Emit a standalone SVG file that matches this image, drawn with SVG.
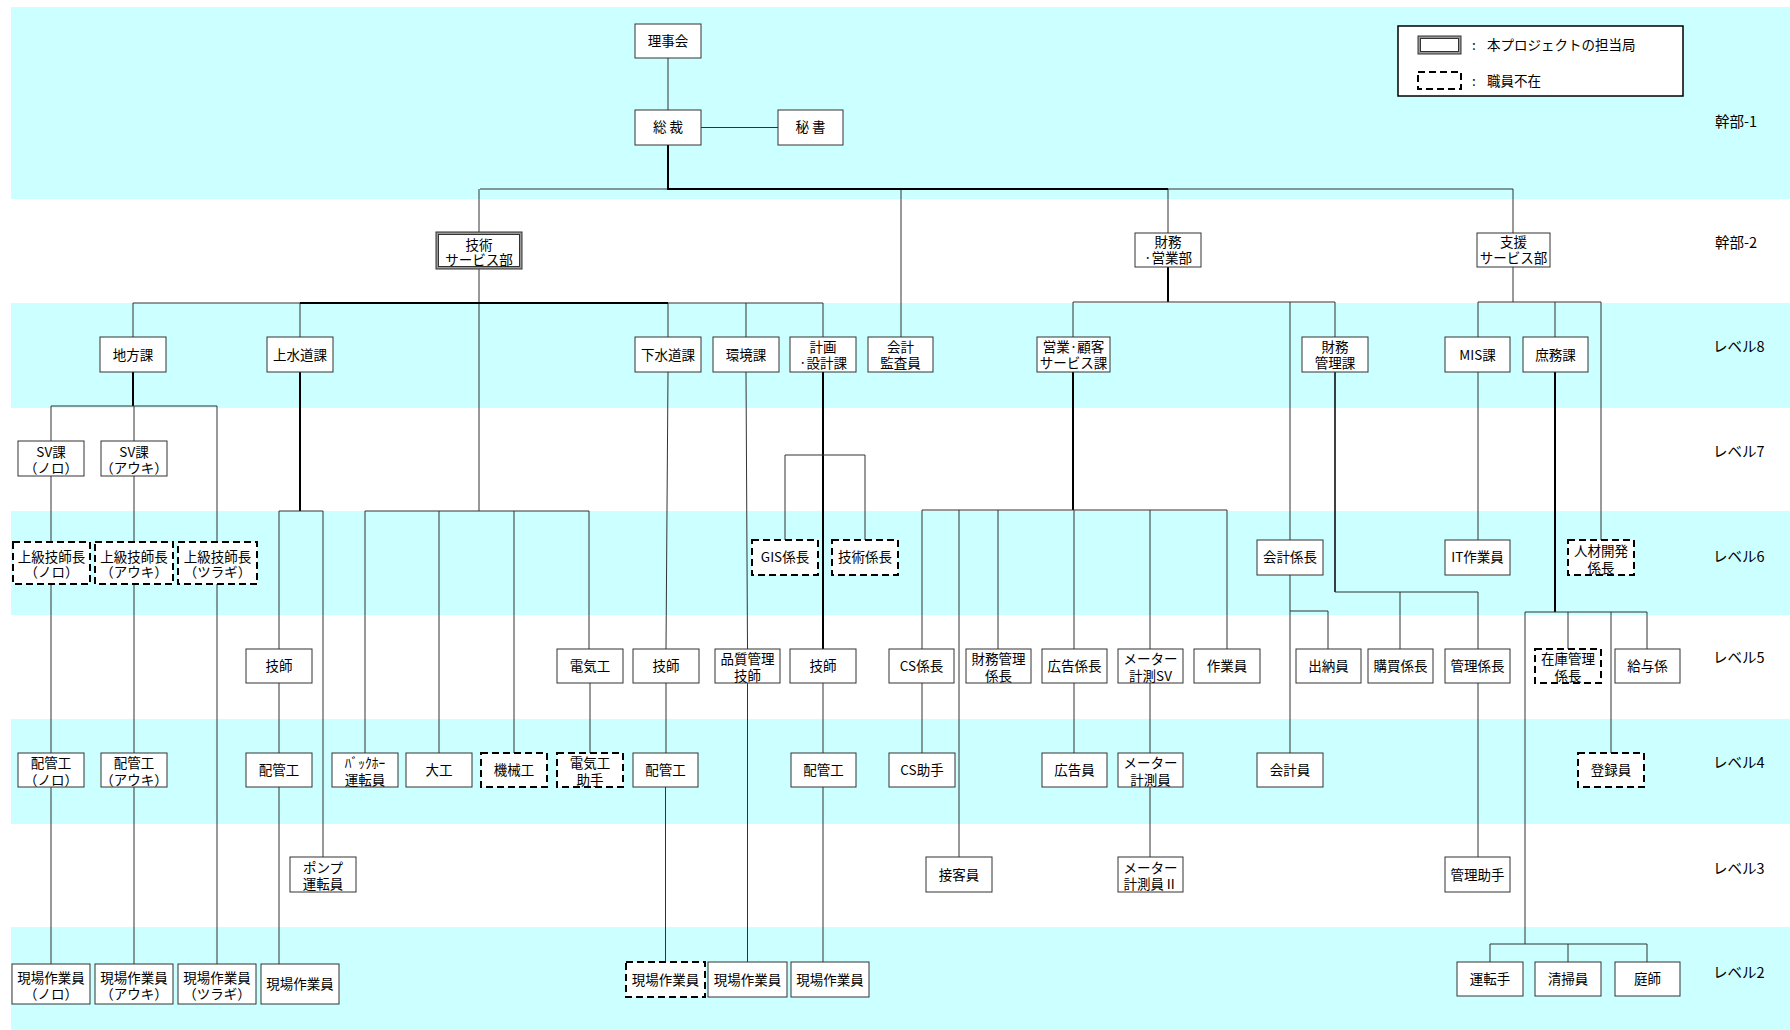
<svg xmlns="http://www.w3.org/2000/svg" width="1790" height="1030" viewBox="0 0 1790 1030">
<style>
.band{fill:#CCFFFF}
.b{fill:#fff;stroke:#333;stroke-width:1}
.d{fill:#fff;stroke:#000;stroke-width:2;stroke-dasharray:7 4}
.o{fill:#999;stroke:#333;stroke-width:1}
.t{font-family:"Noto Sans CJK JP","Liberation Sans",sans-serif;font-size:13.5px;text-anchor:middle;fill:#000}
.lv{font-family:"Noto Sans CJK JP","Liberation Sans",sans-serif;font-size:14.5px;fill:#000}
.lg{font-family:"Noto Sans CJK JP","Liberation Sans",sans-serif;font-size:13.5px;fill:#000}
.c{stroke:#333;stroke-width:1;fill:none}
.k{stroke:#000;stroke-width:2;fill:none}
</style>
<rect width="1790" height="1030" fill="#fff"/>
<g id="bands">
<rect class="band" x="11" y="7" width="1779" height="192"/>
<rect class="band" x="11" y="303" width="1779" height="105"/>
<rect class="band" x="11" y="511" width="1779" height="104"/>
<rect class="band" x="11" y="719" width="1779" height="105"/>
<rect class="band" x="11" y="927" width="1779" height="103"/>
</g>
<g id="levels">
<text class="lv" x="1715" y="127">幹部-1</text>
<text class="lv" x="1715" y="248">幹部-2</text>
<text class="lv" x="1713" y="352">レベル8</text>
<text class="lv" x="1713" y="457">レベル7</text>
<text class="lv" x="1713" y="562">レベル6</text>
<text class="lv" x="1713" y="663">レベル5</text>
<text class="lv" x="1713" y="768">レベル4</text>
<text class="lv" x="1713" y="874">レベル3</text>
<text class="lv" x="1713" y="978">レベル2</text>
</g>
<g id="legend">
<rect x="1398" y="26" width="285" height="70" fill="#fff" stroke="#000" stroke-width="1.5"/>
<rect class="o" x="1418" y="36" width="43" height="18"/>
<rect class="b" x="1420.5" y="38.5" width="38" height="13"/>
<rect class="d" x="1418" y="72" width="43" height="17"/>
<text class="lg" x="1472" y="50">:</text>
<text class="lg" x="1472" y="86">:</text>
<text class="lg" x="1487" y="50">本プロジェクトの担当局</text>
<text class="lg" x="1487" y="86">職員不在</text>
</g>
<g id="connectors">
<path class="c" d="M668 58V110M701 127.5H778M480 189H1513M479 189V232M901 189V337M1168 189V233M1513 189V233"/>
<path class="k" d="M668 145V189H1168"/>
<path class="c" d="M479 269V511M133 303H823M133 303V337M300 303V337M668 303V337M746 303V337M823 303V337"/>
<path class="k" d="M300 303H668"/>
<path class="k" d="M1168 267V302"/>
<path class="c" d="M1073 302H1335M1073 302V337M1335 302V337M1290 302V540"/>
<path class="c" d="M1513 267V302M1478 302H1601M1478 302V337M1555 302V337M1601 302V540"/>
<path class="k" d="M133 372V406"/>
<path class="c" d="M51 406H217M51 406V441M134 406V441M217 406V542M51 476V542M51 584V753M51 787V964M134 476V542M134 584V753M134 787V964M217 584V964"/>
<path class="k" d="M300 372V511"/>
<path class="c" d="M279 511H323M279 511V649M279 683V753M279 787V964M323 511V857"/>
<path class="c" d="M365 511H589M365 511V753M439 511V753M514 511V753M589 511V649M590 683V753"/>
<path class="c" d="M668 372L666 649M666 683V753M665.5 787V962M746 372L747.5 649M747.5 683V962"/>
<path class="k" d="M823 372V649"/>
<path class="c" d="M785 455H865M785 455V540M865 455V540M823 683V753M823 787V962"/>
<path class="k" d="M1073 372V510"/>
<path class="c" d="M922 510H1227M922 510V649M959 510V857M998 510V649M1074 510V649M1150 510V649M1227 510V649M922 683V753M1074 683V753M1150 683V753M1150 787V857"/>
<path class="k" d="M1335 372V592" style="stroke-width:1.5"/>
<path class="c" d="M1335 592H1478M1400 592V649M1478 592V649M1478 683V857"/>
<path class="c" d="M1290 575V753M1290 611H1328V649"/>
<path class="c" d="M1478 372V540"/>
<path class="k" d="M1555 372V612"/>
<path class="c" d="M1525 612H1647M1525 612V944M1568 612V649M1611 612V753M1647 612V649M1490 944H1647M1490 944V962M1568 944V962M1647 944V962"/>
</g>
<g id="n-rijikai"><rect class="b" x="635" y="24" width="66" height="34"/><text class="t" x="668" y="46">理事会</text></g>
<g id="n-sosai"><rect class="b" x="635" y="110" width="66" height="35"/><text class="t" x="668" y="132">総 裁</text></g>
<g id="n-hisho"><rect class="b" x="778" y="110" width="65" height="35"/><text class="t" x="810.5" y="132">秘 書</text></g>
<g id="n-gijutsu"><rect class="o" x="436" y="232" width="86" height="37"/><rect class="b" x="438.5" y="234.5" width="81" height="32"/><text class="t"><tspan x="479" y="250">技術</tspan><tspan x="479" y="265">サービス部</tspan></text></g>
<g id="n-zaimu"><rect class="b" x="1135" y="233" width="66" height="34"/><text class="t"><tspan x="1168" y="247">財務</tspan><tspan x="1168" y="263">·営業部</tspan></text></g>
<g id="n-shien"><rect class="b" x="1477" y="233" width="73" height="34"/><text class="t"><tspan x="1513.5" y="247">支援</tspan><tspan x="1513.5" y="263">サービス部</tspan></text></g>
<g id="n-chiho"><rect class="b" x="100" y="337" width="66" height="35"/><text class="t" x="133" y="359.5">地方課</text></g>
<g id="n-josui"><rect class="b" x="267" y="337" width="66" height="35"/><text class="t" x="300" y="359.5">上水道課</text></g>
<g id="n-gesui"><rect class="b" x="635" y="337" width="66" height="35"/><text class="t" x="668" y="359.5">下水道課</text></g>
<g id="n-kankyo"><rect class="b" x="713" y="337" width="66" height="35"/><text class="t" x="746" y="359.5">環境課</text></g>
<g id="n-keikaku"><rect class="b" x="790" y="337" width="66" height="35"/><text class="t"><tspan x="823" y="351.5">計画</tspan><tspan x="823" y="368">·設計課</tspan></text></g>
<g id="n-kansa"><rect class="b" x="868" y="337" width="65" height="35"/><text class="t"><tspan x="900.5" y="351.5">会計</tspan><tspan x="900.5" y="368">監査員</tspan></text></g>
<g id="n-eigyo"><rect class="b" x="1037" y="337" width="73" height="35"/><text class="t"><tspan x="1073.5" y="351.5">営業·顧客</tspan><tspan x="1073.5" y="368">サービス課</tspan></text></g>
<g id="n-zaimukanri"><rect class="b" x="1302" y="337" width="66" height="35"/><text class="t"><tspan x="1335" y="351.5">財務</tspan><tspan x="1335" y="368">管理課</tspan></text></g>
<g id="n-mis"><rect class="b" x="1445" y="337" width="65" height="35"/><text class="t" x="1477.5" y="359.5">MIS課</text></g>
<g id="n-shomu"><rect class="b" x="1523" y="337" width="65" height="35"/><text class="t" x="1555.5" y="359.5">庶務課</text></g>
<g id="n-sv-noro"><rect class="b" x="18" y="441" width="66" height="35"/><text class="t"><tspan x="51" y="457">SV課</tspan><tspan x="51" y="473">（ノロ）</tspan></text></g>
<g id="n-sv-auki"><rect class="b" x="101" y="441" width="66" height="35"/><text class="t"><tspan x="134" y="457">SV課</tspan><tspan x="134" y="473">（アウキ）</tspan></text></g>
<g id="n-jokyu-noro"><rect class="d" x="13" y="542" width="77" height="42"/><text class="t"><tspan x="51.5" y="561.5">上級技師長</tspan><tspan x="51.5" y="577">（ノロ）</tspan></text></g>
<g id="n-jokyu-auki"><rect class="d" x="95" y="542" width="78" height="42"/><text class="t"><tspan x="134" y="561.5">上級技師長</tspan><tspan x="134" y="577">（アウキ）</tspan></text></g>
<g id="n-jokyu-tsuragi"><rect class="d" x="178" y="542" width="79" height="42"/><text class="t"><tspan x="217.5" y="561.5">上級技師長</tspan><tspan x="217.5" y="577">（ツラギ）</tspan></text></g>
<g id="n-gis"><rect class="d" x="752" y="540" width="66" height="35"/><text class="t" x="785" y="562">GIS係長</text></g>
<g id="n-gijutsukakari"><rect class="d" x="832" y="540" width="66" height="35"/><text class="t" x="865" y="562">技術係長</text></g>
<g id="n-kaikeikakari"><rect class="b" x="1257" y="540" width="66" height="35"/><text class="t" x="1290" y="562">会計係長</text></g>
<g id="n-it"><rect class="b" x="1445" y="540" width="65" height="35"/><text class="t" x="1477.5" y="562">IT作業員</text></g>
<g id="n-jinzai"><rect class="d" x="1568" y="540" width="66" height="35"/><text class="t"><tspan x="1601" y="556">人材開発</tspan><tspan x="1601" y="572.5">係長</tspan></text></g>
<g id="n-gishi-josui"><rect class="b" x="246" y="649" width="66" height="34"/><text class="t" x="279" y="671">技師</text></g>
<g id="n-denkiko"><rect class="b" x="557" y="649" width="66" height="34"/><text class="t" x="590" y="671">電気工</text></g>
<g id="n-gishi-gesui"><rect class="b" x="633" y="649" width="66" height="34"/><text class="t" x="666" y="671">技師</text></g>
<g id="n-hinshitsu"><rect class="b" x="715" y="649" width="65" height="34"/><text class="t"><tspan x="747.5" y="664">品質管理</tspan><tspan x="747.5" y="680.5">技師</tspan></text></g>
<g id="n-gishi-keikaku"><rect class="b" x="790" y="649" width="66" height="34"/><text class="t" x="823" y="671">技師</text></g>
<g id="n-cs"><rect class="b" x="889" y="649" width="65" height="34"/><text class="t" x="921.5" y="671">CS係長</text></g>
<g id="n-zaimukanrikakari"><rect class="b" x="966" y="649" width="65" height="34"/><text class="t"><tspan x="998.5" y="664">財務管理</tspan><tspan x="998.5" y="680.5">係長</tspan></text></g>
<g id="n-kokoku"><rect class="b" x="1042" y="649" width="65" height="34"/><text class="t" x="1074.5" y="671">広告係長</text></g>
<g id="n-meter-sv"><rect class="b" x="1118" y="649" width="65" height="34"/><text class="t"><tspan x="1150.5" y="664">メーター</tspan><tspan x="1150.5" y="680.5">計測SV</tspan></text></g>
<g id="n-sagyoin"><rect class="b" x="1194" y="649" width="66" height="34"/><text class="t" x="1227" y="671">作業員</text></g>
<g id="n-suitou"><rect class="b" x="1296" y="649" width="65" height="34"/><text class="t" x="1328.5" y="671">出納員</text></g>
<g id="n-kobai"><rect class="b" x="1368" y="649" width="65" height="34"/><text class="t" x="1400.5" y="671">購買係長</text></g>
<g id="n-kanrikakari"><rect class="b" x="1445" y="649" width="65" height="34"/><text class="t" x="1477.5" y="671">管理係長</text></g>
<g id="n-zaiko"><rect class="d" x="1535" y="649" width="66" height="34"/><text class="t"><tspan x="1568" y="664">在庫管理</tspan><tspan x="1568" y="680.5">係長</tspan></text></g>
<g id="n-kyuyo"><rect class="b" x="1615" y="649" width="65" height="34"/><text class="t" x="1647.5" y="671">給与係</text></g>
<g id="n-haikan-noro"><rect class="b" x="18" y="753" width="66" height="34"/><text class="t"><tspan x="51" y="768">配管工</tspan><tspan x="51" y="785">（ノロ）</tspan></text></g>
<g id="n-haikan-auki"><rect class="b" x="101" y="753" width="66" height="34"/><text class="t"><tspan x="134" y="768">配管工</tspan><tspan x="134" y="785">（アウキ）</tspan></text></g>
<g id="n-haikan-josui"><rect class="b" x="246" y="753" width="66" height="34"/><text class="t" x="279" y="775">配管工</text></g>
<g id="n-backhoe"><rect class="b" x="332" y="753" width="66" height="34"/><text class="t"><tspan x="365" y="768">ﾊﾞｯｸﾎｰ</tspan><tspan x="365" y="785">運転員</tspan></text></g>
<g id="n-daiku"><rect class="b" x="406" y="753" width="66" height="34"/><text class="t" x="439" y="775">大工</text></g>
<g id="n-kikai"><rect class="d" x="481" y="753" width="66" height="34"/><text class="t" x="514" y="775">機械工</text></g>
<g id="n-denki-joshu"><rect class="d" x="557" y="753" width="66" height="34"/><text class="t"><tspan x="590" y="768">電気工</tspan><tspan x="590" y="785">助手</tspan></text></g>
<g id="n-haikan-gesui"><rect class="b" x="633" y="753" width="65" height="34"/><text class="t" x="665.5" y="775">配管工</text></g>
<g id="n-haikan-keikaku"><rect class="b" x="791" y="753" width="65" height="34"/><text class="t" x="823.5" y="775">配管工</text></g>
<g id="n-cs-joshu"><rect class="b" x="889" y="753" width="66" height="34"/><text class="t" x="922" y="775">CS助手</text></g>
<g id="n-kokokuin"><rect class="b" x="1042" y="753" width="65" height="34"/><text class="t" x="1074.5" y="775">広告員</text></g>
<g id="n-meter-in"><rect class="b" x="1118" y="753" width="65" height="34"/><text class="t"><tspan x="1150.5" y="768">メーター</tspan><tspan x="1150.5" y="785">計測員</tspan></text></g>
<g id="n-kaikeiin"><rect class="b" x="1257" y="753" width="66" height="34"/><text class="t" x="1290" y="775">会計員</text></g>
<g id="n-toroku"><rect class="d" x="1578" y="753" width="66" height="34"/><text class="t" x="1611" y="775">登録員</text></g>
<g id="n-pump"><rect class="b" x="290" y="857" width="66" height="35"/><text class="t"><tspan x="323" y="872.5">ポンプ</tspan><tspan x="323" y="889">運転員</tspan></text></g>
<g id="n-sekkyaku"><rect class="b" x="926" y="857" width="66" height="35"/><text class="t" x="959" y="879.5">接客員</text></g>
<g id="n-meter2"><rect class="b" x="1118" y="857" width="65" height="35"/><text class="t"><tspan x="1150.5" y="872.5">メーター</tspan><tspan x="1150.5" y="889">計測員Ⅱ</tspan></text></g>
<g id="n-kanrijoshu"><rect class="b" x="1445" y="857" width="65" height="35"/><text class="t" x="1477.5" y="879.5">管理助手</text></g>
<g id="n-genba-noro"><rect class="b" x="12" y="964" width="78" height="40"/><text class="t"><tspan x="51" y="983">現場作業員</tspan><tspan x="51" y="998.5">（ノロ）</tspan></text></g>
<g id="n-genba-auki"><rect class="b" x="95" y="964" width="78" height="40"/><text class="t"><tspan x="134" y="983">現場作業員</tspan><tspan x="134" y="998.5">（アウキ）</tspan></text></g>
<g id="n-genba-tsuragi"><rect class="b" x="178" y="964" width="78" height="40"/><text class="t"><tspan x="217" y="983">現場作業員</tspan><tspan x="217" y="998.5">（ツラギ）</tspan></text></g>
<g id="n-genba-josui"><rect class="b" x="261" y="964" width="78" height="40"/><text class="t" x="300" y="989">現場作業員</text></g>
<g id="n-genba-gesui"><rect class="d" x="626" y="962" width="79" height="35"/><text class="t" x="665.5" y="984.5">現場作業員</text></g>
<g id="n-genba-kankyo"><rect class="b" x="708" y="962" width="79" height="35"/><text class="t" x="747.5" y="984.5">現場作業員</text></g>
<g id="n-genba-keikaku"><rect class="b" x="791" y="962" width="78" height="35"/><text class="t" x="830" y="984.5">現場作業員</text></g>
<g id="n-untenshu"><rect class="b" x="1457" y="962" width="66" height="34"/><text class="t" x="1490" y="984">運転手</text></g>
<g id="n-seisoin"><rect class="b" x="1535" y="962" width="66" height="34"/><text class="t" x="1568" y="984">清掃員</text></g>
<g id="n-niwashi"><rect class="b" x="1615" y="962" width="65" height="34"/><text class="t" x="1647.5" y="984">庭師</text></g>
</svg>
